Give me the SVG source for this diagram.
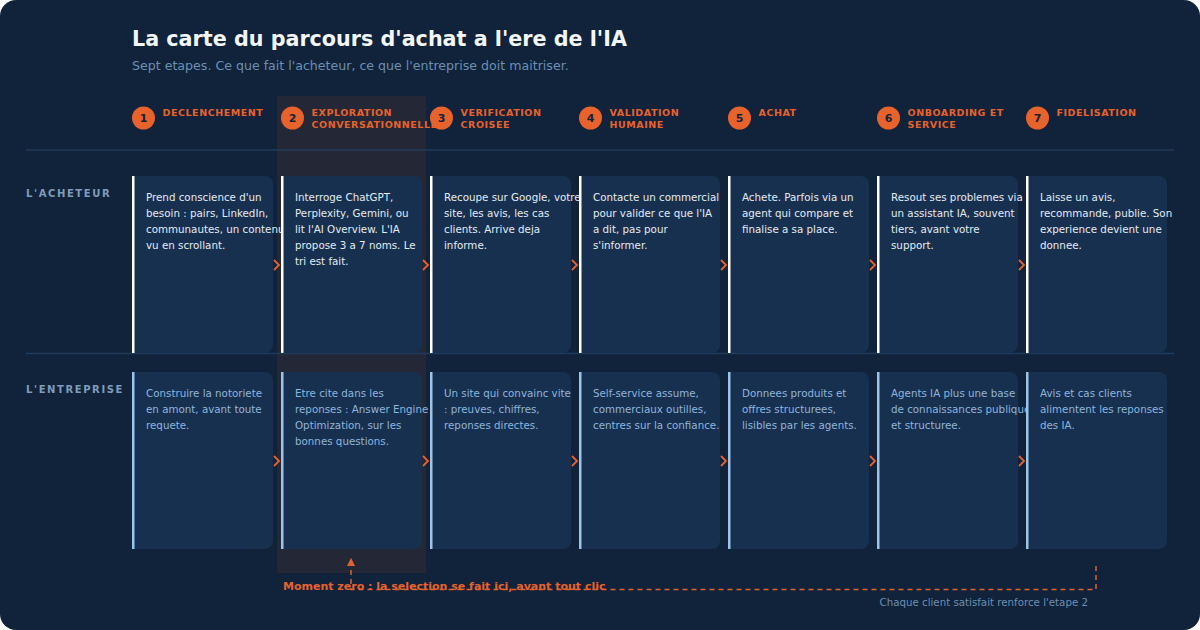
<svg xmlns="http://www.w3.org/2000/svg" width="1200" height="630" viewBox="0 0 1200 630">
<defs>
<style>
text{font-family:"DejaVu Sans","Liberation Sans",sans-serif}
.title{font-size:20.7px;font-weight:bold;fill:#f3f6fa}
.sub{font-size:12.6px;fill:#6d8fb3}
.row{font-size:10px;font-weight:bold;fill:#7f9cbb;letter-spacing:1.6px}
.num{font-size:11px;font-weight:bold;fill:#10233a;text-anchor:middle}
.stage{font-size:9.5px;font-weight:bold;fill:#e8622c;letter-spacing:0.55px}
.card{fill:#17304f}
.bt{font-size:10.3px;fill:#e4ebf3}
.et{font-size:10.3px;fill:#8fb5dc}
.wbar{fill:#ffffff}
.bbar{fill:#9cc3ea}
.chev{fill:none;stroke:#e8622c;stroke-width:1.8}
.sep{stroke:#1f3b5b;stroke-width:1.5}
.dash{fill:none;stroke:#e0622e;stroke-width:1.5;stroke-dasharray:5 4}
</style>
<marker id="ah" viewBox="0 0 10 10" refX="5" refY="5" markerWidth="5.5" markerHeight="5.5" orient="auto-start-reverse">
<path d="M0,0 L10,5 L0,10 z" fill="#e0622e"/>
</marker>
</defs>
<rect width="1200" height="630" fill="#ffffff"/>
<rect width="1200" height="630" rx="16" fill="#10233a"/>
<rect x="277" y="96" width="149" height="477" fill="#242836"/>
<text class="title" x="132" y="46">La carte du parcours d'achat a l'ere de l'IA</text>
<text class="sub" x="132" y="70">Sept etapes. Ce que fait l'acheteur, ce que l'entreprise doit maitriser.</text>
<line class="sep" x1="26" y1="150" x2="1174" y2="150"/>
<line class="sep" x1="26" y1="353.5" x2="1174" y2="353.5"/>
<text class="row" x="26" y="197">L'ACHETEUR</text>
<text class="row" x="26" y="393">L'ENTREPRISE</text>

<g id="stage1">
<circle cx="143.5" cy="118" r="11.5" fill="#e8622c"/><text class="num" x="143.5" y="122">1</text>
<text class="stage" x="162.5" y="116">DECLENCHEMENT</text>
<rect class="card" x="132" y="176" width="141" height="177" rx="8"/><rect class="card" x="132" y="176" width="12" height="177"/><rect class="wbar" x="132" y="176" width="2.5" height="177"/>
<text class="bt" x="146" y="201">Prend conscience d'un</text><text class="bt" x="146" y="217">besoin : pairs, LinkedIn,</text><text class="bt" x="146" y="233">communautes, un contenu</text><text class="bt" x="146" y="249">vu en scrollant.</text>
<rect class="card" x="132" y="372" width="141" height="177" rx="8"/><rect class="card" x="132" y="372" width="12" height="177"/><rect class="bbar" x="132" y="372" width="2.5" height="177"/>
<text class="et" x="146" y="397">Construire la notoriete</text><text class="et" x="146" y="413">en amont, avant toute</text><text class="et" x="146" y="429">requete.</text>
</g>

<g id="stage2">
<circle cx="292.5" cy="118" r="11.5" fill="#e8622c"/><text class="num" x="292.5" y="122">2</text>
<text class="stage" x="311.5" y="116">EXPLORATION</text><text class="stage" x="311.5" y="128">CONVERSATIONNELLE</text>
<rect class="card" x="281" y="176" width="141" height="177" rx="8"/><rect class="card" x="281" y="176" width="12" height="177"/><rect class="wbar" x="281" y="176" width="2.5" height="177"/>
<text class="bt" x="295" y="201">Interroge ChatGPT,</text><text class="bt" x="295" y="217">Perplexity, Gemini, ou</text><text class="bt" x="295" y="233">lit l'AI Overview. L'IA</text><text class="bt" x="295" y="249">propose 3 a 7 noms. Le</text><text class="bt" x="295" y="265">tri est fait.</text>
<rect class="card" x="281" y="372" width="141" height="177" rx="8"/><rect class="card" x="281" y="372" width="12" height="177"/><rect class="bbar" x="281" y="372" width="2.5" height="177"/>
<text class="et" x="295" y="397">Etre cite dans les</text><text class="et" x="295" y="413">reponses : Answer Engine</text><text class="et" x="295" y="429">Optimization, sur les</text><text class="et" x="295" y="445">bonnes questions.</text>
</g>

<g id="stage3">
<circle cx="441.5" cy="118" r="11.5" fill="#e8622c"/><text class="num" x="441.5" y="122">3</text>
<text class="stage" x="460.5" y="116">VERIFICATION</text><text class="stage" x="460.5" y="128">CROISEE</text>
<rect class="card" x="430" y="176" width="141" height="177" rx="8"/><rect class="card" x="430" y="176" width="12" height="177"/><rect class="wbar" x="430" y="176" width="2.5" height="177"/>
<text class="bt" x="444" y="201">Recoupe sur Google, votre</text><text class="bt" x="444" y="217">site, les avis, les cas</text><text class="bt" x="444" y="233">clients. Arrive deja</text><text class="bt" x="444" y="249">informe.</text>
<rect class="card" x="430" y="372" width="141" height="177" rx="8"/><rect class="card" x="430" y="372" width="12" height="177"/><rect class="bbar" x="430" y="372" width="2.5" height="177"/>
<text class="et" x="444" y="397">Un site qui convainc vite</text><text class="et" x="444" y="413">: preuves, chiffres,</text><text class="et" x="444" y="429">reponses directes.</text>
</g>

<g id="stage4">
<circle cx="590.5" cy="118" r="11.5" fill="#e8622c"/><text class="num" x="590.5" y="122">4</text>
<text class="stage" x="609.5" y="116">VALIDATION</text><text class="stage" x="609.5" y="128">HUMAINE</text>
<rect class="card" x="579" y="176" width="141" height="177" rx="8"/><rect class="card" x="579" y="176" width="12" height="177"/><rect class="wbar" x="579" y="176" width="2.5" height="177"/>
<text class="bt" x="593" y="201">Contacte un commercial</text><text class="bt" x="593" y="217">pour valider ce que l'IA</text><text class="bt" x="593" y="233">a dit, pas pour</text><text class="bt" x="593" y="249">s'informer.</text>
<rect class="card" x="579" y="372" width="141" height="177" rx="8"/><rect class="card" x="579" y="372" width="12" height="177"/><rect class="bbar" x="579" y="372" width="2.5" height="177"/>
<text class="et" x="593" y="397">Self-service assume,</text><text class="et" x="593" y="413">commerciaux outilles,</text><text class="et" x="593" y="429">centres sur la confiance.</text>
</g>

<g id="stage5">
<circle cx="739.5" cy="118" r="11.5" fill="#e8622c"/><text class="num" x="739.5" y="122">5</text>
<text class="stage" x="758.5" y="116">ACHAT</text>
<rect class="card" x="728" y="176" width="141" height="177" rx="8"/><rect class="card" x="728" y="176" width="12" height="177"/><rect class="wbar" x="728" y="176" width="2.5" height="177"/>
<text class="bt" x="742" y="201">Achete. Parfois via un</text><text class="bt" x="742" y="217">agent qui compare et</text><text class="bt" x="742" y="233">finalise a sa place.</text>
<rect class="card" x="728" y="372" width="141" height="177" rx="8"/><rect class="card" x="728" y="372" width="12" height="177"/><rect class="bbar" x="728" y="372" width="2.5" height="177"/>
<text class="et" x="742" y="397">Donnees produits et</text><text class="et" x="742" y="413">offres structurees,</text><text class="et" x="742" y="429">lisibles par les agents.</text>
</g>

<g id="stage6">
<circle cx="888.5" cy="118" r="11.5" fill="#e8622c"/><text class="num" x="888.5" y="122">6</text>
<text class="stage" x="907.5" y="116">ONBOARDING ET</text><text class="stage" x="907.5" y="128">SERVICE</text>
<rect class="card" x="877" y="176" width="141" height="177" rx="8"/><rect class="card" x="877" y="176" width="12" height="177"/><rect class="wbar" x="877" y="176" width="2.5" height="177"/>
<text class="bt" x="891" y="201">Resout ses problemes via</text><text class="bt" x="891" y="217">un assistant IA, souvent</text><text class="bt" x="891" y="233">tiers, avant votre</text><text class="bt" x="891" y="249">support.</text>
<rect class="card" x="877" y="372" width="141" height="177" rx="8"/><rect class="card" x="877" y="372" width="12" height="177"/><rect class="bbar" x="877" y="372" width="2.5" height="177"/>
<text class="et" x="891" y="397">Agents IA plus une base</text><text class="et" x="891" y="413">de connaissances publique</text><text class="et" x="891" y="429">et structuree.</text>
</g>

<g id="stage7">
<circle cx="1037.5" cy="118" r="11.5" fill="#e8622c"/><text class="num" x="1037.5" y="122">7</text>
<text class="stage" x="1056.5" y="116">FIDELISATION</text>
<rect class="card" x="1026" y="176" width="141" height="177" rx="8"/><rect class="card" x="1026" y="176" width="12" height="177"/><rect class="wbar" x="1026" y="176" width="2.5" height="177"/>
<text class="bt" x="1040" y="201">Laisse un avis,</text><text class="bt" x="1040" y="217">recommande, publie. Son</text><text class="bt" x="1040" y="233">experience devient une</text><text class="bt" x="1040" y="249">donnee.</text>
<rect class="card" x="1026" y="372" width="141" height="177" rx="8"/><rect class="card" x="1026" y="372" width="12" height="177"/><rect class="bbar" x="1026" y="372" width="2.5" height="177"/>
<text class="et" x="1040" y="397">Avis et cas clients</text><text class="et" x="1040" y="413">alimentent les reponses</text><text class="et" x="1040" y="429">des IA.</text>
</g>

<g id="connectors">
<path class="chev" d="M274,260 L279,265 L274,270"/><path class="chev" d="M423,260 L428,265 L423,270"/><path class="chev" d="M572,260 L577,265 L572,270"/><path class="chev" d="M721,260 L726,265 L721,270"/><path class="chev" d="M870,260 L875,265 L870,270"/><path class="chev" d="M1019,260 L1024,265 L1019,270"/>
<path class="chev" d="M274,456 L279,461 L274,466"/><path class="chev" d="M423,456 L428,461 L423,466"/><path class="chev" d="M572,456 L577,461 L572,466"/><path class="chev" d="M721,456 L726,461 L721,466"/><path class="chev" d="M870,456 L875,461 L870,466"/><path class="chev" d="M1019,456 L1024,461 L1019,466"/>
<path class="dash" d="M1096,566 V589.5 H351 V562" marker-end="url(#ah)"/>
</g>
<text x="283" y="590" font-size="11px" font-weight="bold" fill="#e8622c">Moment zero : la selection se fait ici, avant tout clic</text>
<text x="1088" y="606" font-size="10.25px" fill="#6d8fb3" text-anchor="end">Chaque client satisfait renforce l'etape 2</text>
</svg>
